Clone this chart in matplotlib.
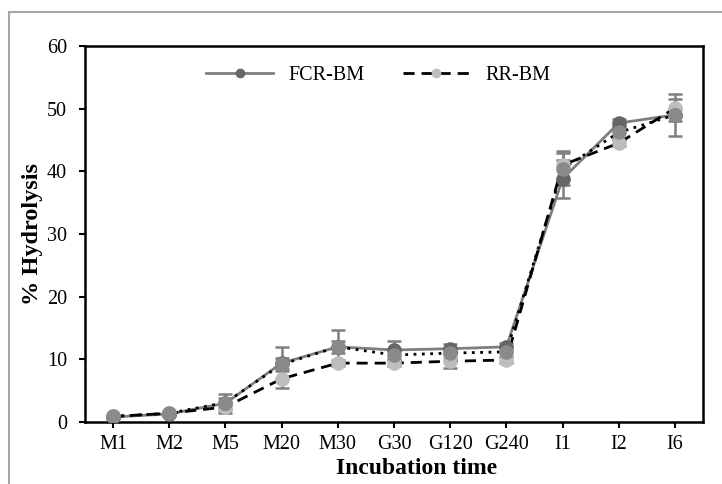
import matplotlib
matplotlib.use("Agg")
import matplotlib.pyplot as plt
from matplotlib.patches import Rectangle

plt.rcParams['font.family'] = ['Liberation Serif', 'DejaVu Serif']

# categorias e valores
categorias = ["M1", "M2", "M5", "M20", "M30", "G30", "G120", "G240", "I1", "I2", "I6"]

fcr_bm = [0.8, 1.3, 3.0, 9.4, 12.0, 11.5, 11.7, 12.0, 38.8, 47.7, 49.0]
fcr_err = [0.2, 0.3, 1.5, 2.6, 2.7, 1.4, 0.8, 0.6, 3.0, 0.6, 1.0]

medio = [0.9, 1.4, 3.1, 9.2, 12.0, 10.7, 11.0, 11.2, 40.4, 46.2, 49.0]
medio_err = [0.2, 0.2, 0.8, 1.0, 1.0, 0.8, 0.8, 0.8, 2.6, 1.0, 3.4]

rr_bm = [0.9, 1.4, 2.4, 6.9, 9.4, 9.4, 9.7, 9.9, 41.0, 44.5, 50.1]
rr_err = [0.2, 0.2, 0.5, 1.5, 0.5, 0.5, 1.1, 0.5, 2.3, 0.5, 1.5]

CINZA_ESCURO = "#666666"
CINZA_MEDIO = "#8a8a8a"
CINZA_CLARO = "#bdbdbd"
CINZA_LINHA = "#7f7f7f"

fig = plt.figure(figsize=(7.22, 4.84), dpi=100)
ax = fig.add_axes([0.1177, 0.128, 0.856, 0.777])
x = list(range(len(categorias)))

# barras de erro por baixo
for vals, err in [(fcr_bm, fcr_err), (medio, medio_err), (rr_bm, rr_err)]:
    ax.errorbar(x, vals, yerr=err, fmt="none", ecolor=CINZA_LINHA,
                elinewidth=1.8, capsize=5, capthick=1.8, zorder=1)

# linhas
ax.plot(x, fcr_bm, color=CINZA_LINHA, lw=2, zorder=2)
ax.plot(x, medio, color="black", lw=2, ls=(0, (1, 2)), zorder=2)
ax.plot(x, rr_bm, color="black", lw=2, ls=(0, (4, 2.5)), zorder=2)

# marcadores
ms = 10.5
ax.plot(x, rr_bm, "o", color=CINZA_CLARO, ms=ms, mec="none", zorder=3)
ax.plot(x, fcr_bm, "o", color=CINZA_ESCURO, ms=ms, mec="none", zorder=4)
ax.plot(x, medio, "o", color=CINZA_MEDIO, ms=ms, mec="none", zorder=5)

# entradas da legenda
h1, = ax.plot([], [], color=CINZA_LINHA, lw=2, marker="o", ms=7,
              mfc=CINZA_ESCURO, mec="none", label="FCR-BM")
h2, = ax.plot([], [], color="black", lw=2, ls=(0, (4, 2.5)), marker="o", ms=7,
              mfc=CINZA_CLARO, mec="none", label="RR-BM")
ax.legend(handles=[h1, h2], loc="upper center", bbox_to_anchor=(0.475, 0.995),
          ncol=2, frameon=False, fontsize=14.5, handlelength=3.3,
          columnspacing=1.9)

ax.set_xlim(-0.5, len(categorias) - 0.5)
ax.set_ylim(0, 60)
ax.set_yticks(range(0, 61, 10))
ax.set_xticks(x)
ax.set_xticklabels(categorias)
ax.tick_params(axis="both", labelsize=14.5, width=1.5, length=4, direction="out")
ax.tick_params(axis="y", pad=9)
ax.tick_params(axis="x", pad=5)
for s in ax.spines.values():
    s.set_linewidth(1.8)

ax.set_xlabel("Incubation time", fontsize=17, fontweight="bold")
ax.xaxis.set_label_coords(0.536, -0.095)
ax.set_ylabel("% Hydrolysis", fontsize=17.5, fontweight="bold")
ax.yaxis.set_label_coords(-0.068, 0.5)

# moldura externa cinza
fig.patches.append(Rectangle((9 / 722, -0.2), 1.2, 1.2 - 12 / 484,
                             transform=fig.transFigure, fill=False,
                             edgecolor="#a6a6a6", lw=1.5))

fig.savefig("out.png", dpi=100)
